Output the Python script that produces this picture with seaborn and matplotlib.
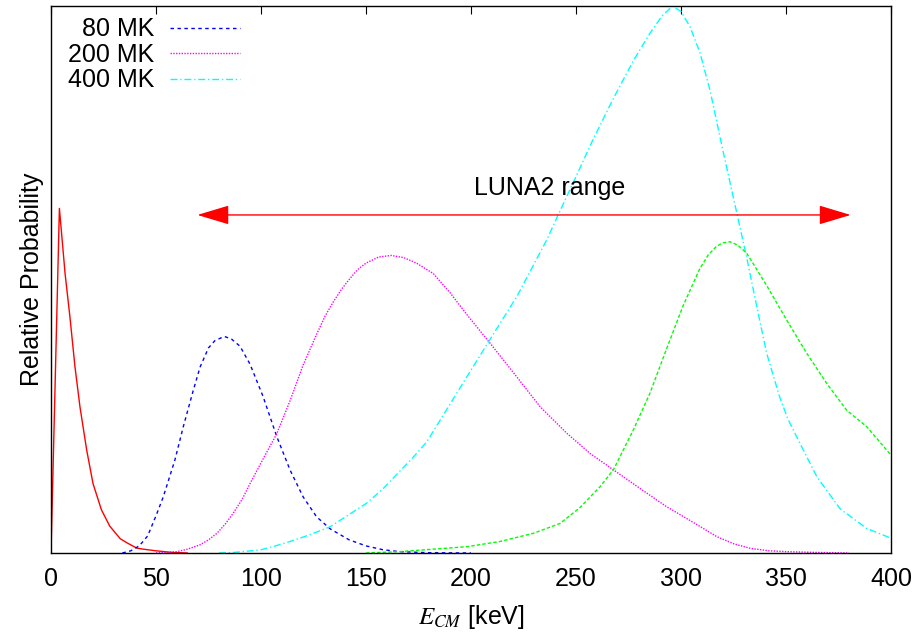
import numpy as np
import matplotlib.pyplot as plt
import seaborn as sns

# centre-of-mass energy [keV] and relative probability
e_red = [0, 4, 6.7, 9, 11.4, 13.8, 17, 20, 24, 28, 33, 36, 40.8, 44, 50, 58, 65]
p_red = [0, 0.630, 0.511, 0.432, 0.341, 0.267, 0.188, 0.127, 0.079, 0.049,
         0.026, 0.019, 0.009, 0.007, 0.004, 0.001, 0]

e_80 = [34, 38, 42, 46, 50, 53.5, 59, 63, 67.8, 71, 75, 78, 82.5, 86, 90, 94.8,
        101, 107.5, 113.8, 120, 126.5, 133, 142, 150, 158, 166, 180, 200]
p_80 = [0, 0.004, 0.013, 0.031, 0.068, 0.103, 0.170, 0.231, 0.298, 0.340,
        0.375, 0.388, 0.396, 0.391, 0.378, 0.345, 0.286, 0.213, 0.152, 0.103,
        0.066, 0.044, 0.024, 0.013, 0.006, 0.0025, 0.0005, 0]

e_200 = [50, 55, 60, 65, 71, 75, 79, 83, 86.8, 91, 94.8, 101, 107.5, 113.8, 120,
         126.5, 130.5, 134.4, 138.5, 142.4, 146, 150, 156, 162, 168, 174, 182,
         190, 198, 209, 221.8, 233, 245.6, 256.7, 267.8, 280.5, 293, 308, 317,
         325, 333, 342, 350, 365, 380]
p_200 = [0, 0.001, 0.0025, 0.007, 0.015, 0.024, 0.036, 0.053, 0.073, 0.098,
         0.127, 0.172, 0.218, 0.278, 0.343, 0.400, 0.433, 0.459, 0.483, 0.502,
         0.518, 0.530, 0.541, 0.544, 0.540, 0.530, 0.511, 0.476, 0.436, 0.384,
         0.322, 0.267, 0.219, 0.182, 0.152, 0.118, 0.085, 0.051, 0.030, 0.017,
         0.0085, 0.004, 0.0025, 0.001, 0]

e_400 = [80, 86.8, 99.5, 106, 113.8, 123, 132.9, 141, 150.3, 158, 166.2, 172,
         178.9, 190, 198, 209, 222, 236, 241.5, 250, 258, 267.8, 277.3, 285.2,
         291, 296, 300, 304.3, 309, 313.8, 320, 327.3, 331.3, 336, 340.8, 347,
         351, 355, 364.6, 375.7, 388.4, 400]
p_400 = [0, 0.001, 0.0055, 0.012, 0.021, 0.033, 0.048, 0.068, 0.091, 0.117,
         0.150, 0.173, 0.203, 0.272, 0.322, 0.390, 0.470, 0.572, 0.618, 0.688,
         0.755, 0.831, 0.900, 0.950, 0.982, 1.0, 0.990, 0.962, 0.915, 0.846,
         0.735, 0.609, 0.540, 0.452, 0.365, 0.285, 0.244, 0.213, 0.140, 0.081,
         0.045, 0.027]

e_green = [150, 166, 198, 213.8, 229.7, 242.4, 251.9, 261.4, 267.8, 277.3, 285.2,
           293.2, 301.1, 309, 313, 317, 320, 323.3, 327, 331.3, 340.8, 350.3,
           359.9, 369.4, 378.9, 388.4, 400]
p_green = [0, 0.0025, 0.0115, 0.021, 0.036, 0.054, 0.083, 0.121, 0.152, 0.225,
           0.292, 0.374, 0.453, 0.520, 0.545, 0.561, 0.567, 0.569, 0.563, 0.548,
           0.489, 0.426, 0.365, 0.310, 0.261, 0.231, 0.179]

# LUNA2 accessible energy window [keV] and where it is annotated
luna_range = [69.7, 380.8]
luna_level = 0.618
x_ticks = np.arange(0, 401, 50)

sns.set_style('white')
plt.rcParams['font.family'] = ['Liberation Sans', 'DejaVu Sans']
plt.rcParams['mathtext.fontset'] = 'stix'
plt.rcParams['text.color'] = 'black'
plt.rcParams['axes.labelcolor'] = 'black'

fig = plt.figure(figsize=(9.21, 6.37), dpi=100)
ax = fig.add_axes([51 / 921, 84 / 637, 840 / 921, 547 / 637])

sns.lineplot(x=e_red, y=p_red, color='red', linewidth=1, ax=ax)
l80 = sns.lineplot(x=e_80, y=p_80, color='blue', linewidth=1,
                   linestyle=(0, (2.5, 2.5)), ax=ax).lines[-1]
l200 = sns.lineplot(x=e_200, y=p_200, color='magenta', linewidth=1,
                    linestyle=(0, (1, 1)), ax=ax).lines[-1]
l400 = sns.lineplot(x=e_400, y=p_400, color='cyan', linewidth=1,
                    linestyle=(0, (5, 2, 1, 2)), ax=ax).lines[-1]
sns.lineplot(x=e_green, y=p_green, color='#00ff00', linewidth=1,
             linestyle=(0, (2.5, 1.5)), ax=ax)

# LUNA2 range arrow
ax.annotate('', xy=(luna_range[1], luna_level), xytext=(luna_range[0], luna_level),
            arrowprops=dict(arrowstyle='<|-|>,head_length=1.0,head_width=0.3',
                            color='red', lw=1, shrinkA=0, shrinkB=0,
                            mutation_scale=20))
ax.text(np.mean(luna_range) + 12.4, luna_level + 0.05, 'LUNA2 range',
        ha='center', va='center', fontsize=18)

ax.set_xlim(0, 400)
ax.set_ylim(0, 1.0)
ax.set_xticks(x_ticks)
ax.tick_params(axis='x', direction='in', length=5.5, width=0.8, top=True,
               pad=10, labelsize=18, colors='black')
ax.tick_params(axis='y', left=False, labelleft=False)
for sp in ax.spines.values():
    sp.set_visible(True)
    sp.set_color('black')
    sp.set_linewidth(1)

ax.set_xlabel(r'$E_{CM}$ [keV]', fontsize=18, labelpad=9)
ax.set_ylabel('Relative Probability', fontsize=18, labelpad=5)

ax.legend([l80, l200, l400], ['80 MK', '200 MK', '400 MK'],
          loc='upper left', bbox_to_anchor=(0.02, 0.979), frameon=False,
          markerfirst=False, fontsize=18, handlelength=2.8,
          handletextpad=0.64, labelspacing=0.06, borderaxespad=0, borderpad=0)

fig.savefig('out.png', dpi=100)
